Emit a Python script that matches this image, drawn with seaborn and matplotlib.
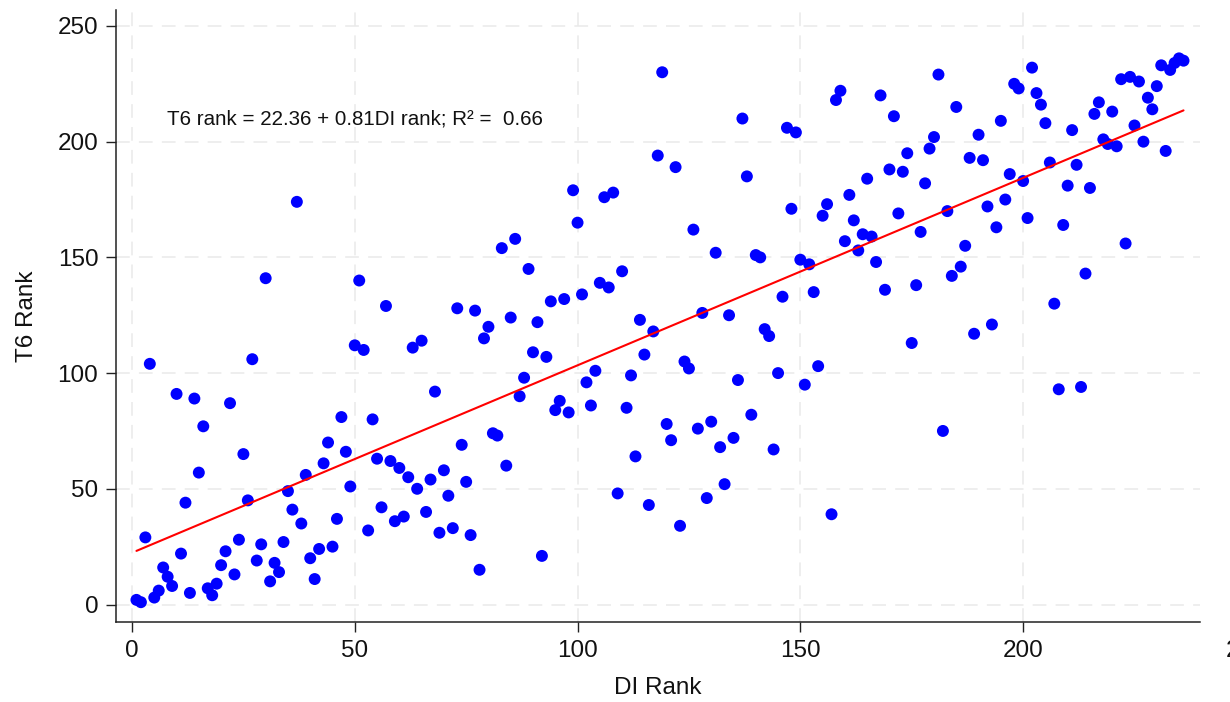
import numpy as np
import pandas as pd
import matplotlib
matplotlib.use("Agg")
import matplotlib.pyplot as plt
from matplotlib.transforms import ScaledTranslation
import seaborn as sns

# DI rank (x) and T6 rank (y) for each unit
di_rank = list(range(1, 237))
t6_rank = [
    2, 1, 29, 104, 3, 6, 16, 12, 8, 91,
    22, 44, 5, 89, 57, 77, 7, 4, 9, 17,
    23, 87, 13, 28, 65, 45, 106, 19, 26, 141,
    10, 18, 14, 27, 49, 41, 174, 35, 56, 20,
    11, 24, 61, 70, 25, 37, 81, 66, 51, 112,
    140, 110, 32, 80, 63, 42, 129, 62, 36, 59,
    38, 55, 111, 50, 114, 40, 54, 92, 31, 58,
    47, 33, 128, 69, 53, 30, 127, 15, 115, 120,
    74, 73, 154, 60, 124, 158, 90, 98, 145, 109,
    122, 21, 107, 131, 84, 88, 132, 83, 179, 165,
    134, 96, 86, 101, 139, 176, 137, 178, 48, 144,
    85, 99, 64, 123, 108, 43, 118, 194, 230, 78,
    71, 189, 34, 105, 102, 162, 76, 126, 46, 79,
    152, 68, 52, 125, 72, 97, 210, 185, 82, 151,
    150, 119, 116, 67, 100, 133, 206, 171, 204, 149,
    95, 147, 135, 103, 168, 173, 39, 218, 222, 157,
    177, 166, 153, 160, 184, 159, 148, 220, 136, 188,
    211, 169, 187, 195, 113, 138, 161, 182, 197, 202,
    229, 75, 170, 142, 215, 146, 155, 193, 117, 203,
    192, 172, 121, 163, 209, 175, 186, 225, 223, 183,
    167, 232, 221, 216, 208, 191, 130, 93, 164, 181,
    205, 190, 94, 143, 180, 212, 217, 201, 199, 213,
    198, 227, 156, 228, 207, 226, 200, 219, 214, 224,
    233, 196, 231, 234, 236, 235,
]

# Fitted linear relation reported on the chart
intercept = 22.36
slope = 0.81
r_squared = 0.66

x_ticks = [0, 50, 100, 150, 200, 250]
y_ticks = [0, 50, 100, 150, 200, 250]

sns.set_theme(style="white")
plt.rcParams["font.family"] = ["Liberation Sans", "DejaVu Sans"]

df = pd.DataFrame({"DI Rank": di_rank, "T6 Rank": t6_rank})
fit_x = np.array([min(di_rank), max(di_rank)], dtype=float)
fit_df = pd.DataFrame({"x": fit_x, "y": intercept + slope * fit_x})

W, H = 1230, 702
fig = plt.figure(figsize=(W / 100, H / 100), dpi=100)
ax = fig.add_axes([116 / W, 1 - 622 / H, (1200 - 116) / W, (622 - 10) / H])

sns.scatterplot(data=df, x="DI Rank", y="T6 Rank", ax=ax, color="#0000FF",
                s=74, edgecolor="none", linewidth=0, zorder=3)
sns.lineplot(data=fit_df, x="x", y="y", ax=ax, color="#FF0000",
             linewidth=1.5, zorder=4)

ax.set_xlim(-3.59, 239.7)
ax.set_ylim(-7.56, 256.9)

tick_fs = 17.5
tick_len = 7.2
tick_pad = 5.5
ax.set_xticks(x_ticks[:-1])
ax.set_yticks(y_ticks)
ax.tick_params(axis="both", which="major", direction="out", length=tick_len,
               width=1.0, color="#222222", labelsize=tick_fs, pad=tick_pad,
               labelcolor="#111111")
ax.tick_params(axis="x", bottom=True)
ax.tick_params(axis="y", left=True)

# last x tick label sits beyond the axis end
offset = ScaledTranslation(0, -(tick_len + tick_pad) / 72, fig.dpi_scale_trans)
ax.text(x_ticks[-1], 0, str(x_ticks[-1]), transform=ax.get_xaxis_transform() + offset,
        ha="center", va="top", fontsize=tick_fs, color="#111111", clip_on=False)

ax.grid(True, color="#EAEAEA", linestyle=(0, (9, 6)), linewidth=1.1, zorder=0)
ax.set_axisbelow(True)

for side in ["top", "right"]:
    ax.spines[side].set_visible(False)
for side in ["left", "bottom"]:
    ax.spines[side].set_color("#222222")
    ax.spines[side].set_linewidth(1.1)

ax.set_xlabel("DI Rank", fontsize=17.5, color="#111111", labelpad=11)
ax.set_ylabel("T6 Rank", fontsize=17.5, color="#111111", labelpad=14)

ax.text(7.8, 209.7,
        f"T6 rank = {intercept:.2f} + {slope:.2f}DI rank; R\u00b2 =  {r_squared:.2f}",
        ha="left", va="center", fontsize=14.8, color="#111111", zorder=5)

fig.savefig("out.png", dpi=100, facecolor="white")
